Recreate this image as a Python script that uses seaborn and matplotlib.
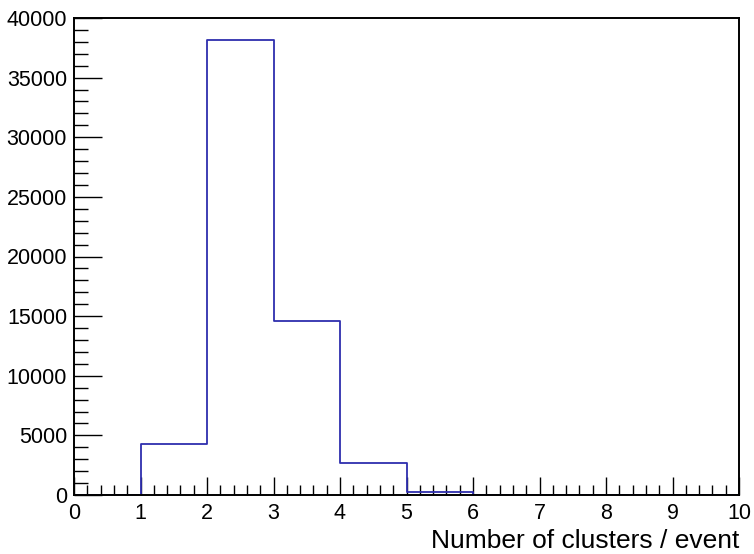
import numpy as np
import pandas as pd
import seaborn as sns
import matplotlib.pyplot as plt
from matplotlib.ticker import MultipleLocator

# histogram contents (one bin per integer cluster count)
bin_edges = [0, 1, 2, 3, 4, 5, 6, 7, 8, 9, 10]
bin_centers = [0.5, 1.5, 2.5, 3.5, 4.5, 5.5, 6.5, 7.5, 8.5, 9.5]
counts = [0, 4280, 38180, 14620, 2650, 260, 0, 0, 0, 0]

x_ticks = [0, 1, 2, 3, 4, 5, 6, 7, 8, 9, 10]
y_ticks = [0, 5000, 10000, 15000, 20000, 25000, 30000, 35000, 40000]

sns.set_style("ticks")
plt.rcParams['font.family'] = ['Liberation Sans', 'DejaVu Sans']

df = pd.DataFrame({"nclus": bin_centers, "w": counts})

fig = plt.figure(figsize=(7.54, 5.54), dpi=100)
ax = fig.add_axes([74 / 754, 59 / 554, 665 / 754, 477 / 554])

sns.histplot(data=df, x="nclus", weights="w", bins=bin_edges,
             element="step", fill=False, color="#2e2eae", linewidth=1.3,
             zorder=1, ax=ax)

ax.set_xlim(0, 10)
ax.set_ylim(0, 40000)
ax.set_xticks(x_ticks)
ax.set_yticks(y_ticks)
ax.xaxis.set_minor_locator(MultipleLocator(0.2))
ax.yaxis.set_minor_locator(MultipleLocator(1000))

ax.tick_params(axis="both", which="both", direction="in", colors="black",
               labelsize=15.5, width=1.0, top=False, right=False)
ax.tick_params(axis="x", which="major", length=13, pad=6)
ax.tick_params(axis="x", which="minor", length=7)
ax.tick_params(axis="y", which="major", length=20, pad=5)
ax.tick_params(axis="y", which="minor", length=10)

for s in ax.spines.values():
    s.set_visible(True)
    s.set_color("black")
    s.set_linewidth(1.4)
    s.set_zorder(3)

ax.set_ylabel("")
ax.set_xlabel("Number of clusters / event", fontsize=19, color="black",
              loc="right", labelpad=3)
ax.grid(False)

fig.savefig("out.png", dpi=100)
